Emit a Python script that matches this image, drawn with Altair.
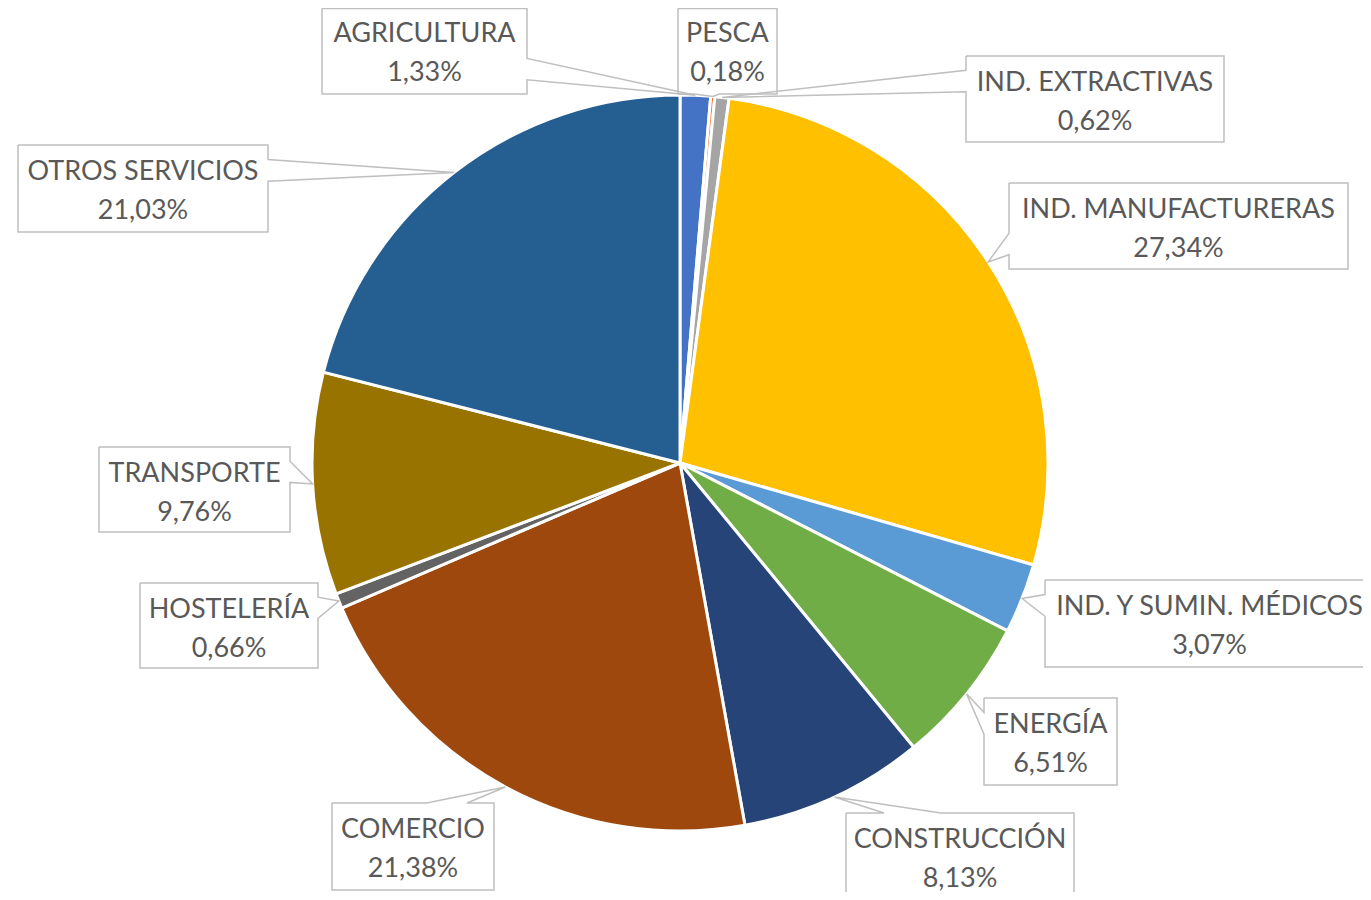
import math
import altair as alt
import pandas as pd

# ---- data ----
sectors = ["AGRICULTURA", "PESCA", "IND. EXTRACTIVAS", "IND. MANUFACTURERAS",
           "IND. Y SUMIN. MÉDICOS", "ENERGÍA", "CONSTRUCCIÓN", "COMERCIO",
           "HOSTELERÍA", "TRANSPORTE", "OTROS SERVICIOS"]
shares = [1.33, 0.18, 0.62, 27.34, 3.07, 6.51, 8.13, 21.38, 0.66, 9.76, 21.03]
colors = ["#4472C4", "#ED7D31", "#A5A5A5", "#FFC000", "#5B9BD5", "#70AD47",
          "#264478", "#9E480E", "#636363", "#997300", "#255E91"]

# ---- layout (callout boxes, page pixel coords: left, top, right, bottom) ----
box_left = [322, 678, 966, 1009, 1045, 984, 846, 332, 140, 99, 18]
box_top = [8.6, 8.6, 56, 183, 580, 698, 813, 803, 583, 447, 145]
box_right = [527, 777, 1224, 1348, 1374, 1117, 1074, 494, 318, 290, 268]
box_bottom = [94, 94, 142, 269, 667, 785, 900, 890, 668, 532, 232]
# text baselines measured from the box top (first and second line)
line1_dy, line2_dy = 35, 74

W, H = 1355, 884
OFF = 8
CX, CY, R = 680 - OFF, 463 - OFF, 368

total = sum(shares)
pie_df = pd.DataFrame({"sector": sectors, "value": shares, "idx": list(range(len(sectors)))})

# callout outlines (Office wedgeRectCallout geometry)
poly_rows = []
text_rows = []
cum = 0.0
for i, name in enumerate(sectors):
    mid = (cum + shares[i] / 2) / total * 2 * math.pi
    cum += shares[i]
    xp = CX + R * math.sin(mid)
    yp = CY - R * math.cos(mid)
    l, t, r, b = (box_left[i] - OFF, box_top[i] - OFF, box_right[i] - OFF, box_bottom[i] - OFF)
    w, h = r - l, b - t
    hc, vc = l + w / 2, t + h / 2
    dx, dy = xp - hc, yp - vc
    dq = dx * h / w
    dz = abs(dy) - abs(dq)
    x1 = l + w * (7 if dx > 0 else 2) / 12
    x2 = l + w * (10 if dx > 0 else 5) / 12
    y1 = t + h * (7 if dy > 0 else 2) / 12
    y2 = t + h * (10 if dy > 0 else 5) / 12
    pts = [(l, t)]
    if dy < 0 and dz > 0:
        pts += [(x1, t), (xp, yp), (x2, t)]
    pts.append((r, t))
    if dx > 0 and dz <= 0:
        pts += [(r, y1), (xp, yp), (r, y2)]
    pts.append((r, b))
    if dy > 0 and dz > 0:
        pts += [(x2, b), (xp, yp), (x1, b)]
    pts.append((l, b))
    if dx < 0 and dz <= 0:
        pts += [(l, y2), (xp, yp), (l, y1)]
    pts.append((l, t))
    for k, (px, py) in enumerate(pts):
        poly_rows.append({"lab": name, "k": k, "x": px, "y": py})
    pct = f"{shares[i]:.2f}".replace(".", ",") + "%"
    base_t = t if box_top[i] > 9 else -1
    text_rows.append({"x": hc, "y": base_t + line1_dy, "text": name})
    text_rows.append({"x": hc, "y": base_t + line2_dy, "text": pct})

poly_df = pd.DataFrame(poly_rows)
text_df = pd.DataFrame(text_rows)

xs = alt.Scale(domain=[0, W], nice=False, zero=False)
ys = alt.Scale(domain=[0, H], nice=False, zero=False, reverse=True)

pie = alt.Chart(pie_df).mark_arc(radius=R, stroke="white", strokeWidth=3).encode(
    theta=alt.Theta("value:Q", stack=True),
    color=alt.Color("sector:N", scale=alt.Scale(domain=sectors, range=colors), legend=None),
    order=alt.Order("idx:Q"),
    x=alt.value(CX),
    y=alt.value(CY),
)

callouts = alt.Chart(poly_df).mark_line(color="#BFBFBF", strokeWidth=1.5).encode(
    x=alt.X("x:Q", scale=xs, axis=None),
    y=alt.Y("y:Q", scale=ys, axis=None),
    detail="lab:N",
    order="k:Q",
)

texts = alt.Chart(text_df).mark_text(
    font="Lato", fontSize=27, color="#595959", align="center", baseline="alphabetic"
).encode(
    x=alt.X("x:Q", scale=xs, axis=None),
    y=alt.Y("y:Q", scale=ys, axis=None),
    text="text:N",
)

chart = alt.layer(pie, callouts, texts).resolve_scale(theta="independent").properties(
    width=W, height=H, padding=0, autosize=alt.AutoSizeParams(type="none")
).configure_view(stroke=None)

chart.save("out.html", embed_options={"renderer": "svg", "actions": False})
